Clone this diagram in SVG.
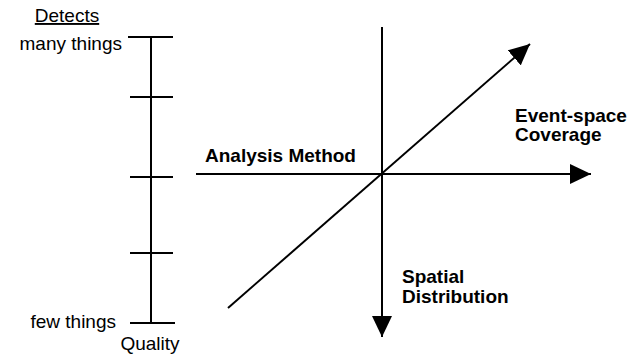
<svg xmlns="http://www.w3.org/2000/svg" width="635" height="356" viewBox="0 0 635 356">
<style>
.ln{stroke:#000;stroke-width:2;fill:none}
.t{font-family:"Liberation Sans",Arial,sans-serif;font-size:19px;fill:#000}
.b{font-family:"Liberation Sans",Arial,sans-serif;font-size:19px;font-weight:bold;fill:#000}
</style>
<defs>
<marker id="ah" viewBox="0 0 21 20" refX="21" refY="10" markerWidth="21" markerHeight="20" markerUnits="userSpaceOnUse" orient="auto">
<path d="M0,0 L21,10 L0,20 Z" fill="#000"/>
</marker>
</defs>
<rect width="635" height="356" fill="#fff"/>
<g id="quality-scale">
<line class="ln" x1="151" y1="37" x2="151" y2="323"/>
<line class="ln" x1="128" y1="37" x2="173" y2="37"/>
<line class="ln" x1="130" y1="97" x2="173" y2="97"/>
<line class="ln" x1="130" y1="177" x2="173" y2="177"/>
<line class="ln" x1="130" y1="253" x2="173" y2="253"/>
<line class="ln" x1="130" y1="323" x2="175" y2="323"/>
<text class="t" x="67" y="22" text-anchor="middle" text-decoration="underline">Detects</text>
<text class="t" x="122" y="50" text-anchor="end">many things</text>
<text class="t" x="116" y="328" text-anchor="end">few things</text>
<text class="t" x="150" y="350" text-anchor="middle">Quality</text>
</g>
<g id="connectors">
<line class="ln" x1="382" y1="27" x2="382" y2="337" marker-end="url(#ah)"/>
<line class="ln" x1="196" y1="174" x2="591" y2="174" marker-end="url(#ah)"/>
<line class="ln" x1="228" y1="308" x2="530" y2="44" marker-end="url(#ah)"/>
</g>
<g id="analysis-method">
<text class="b" x="205" y="162">Analysis Method</text>
</g>
<g id="event-space">
<text class="b" x="515" y="122">Event-space</text>
<text class="b" x="515" y="141">Coverage</text>
</g>
<g id="spatial">
<text class="b" x="402" y="283">Spatial</text>
<text class="b" x="402" y="303">Distribution</text>
</g>
</svg>
